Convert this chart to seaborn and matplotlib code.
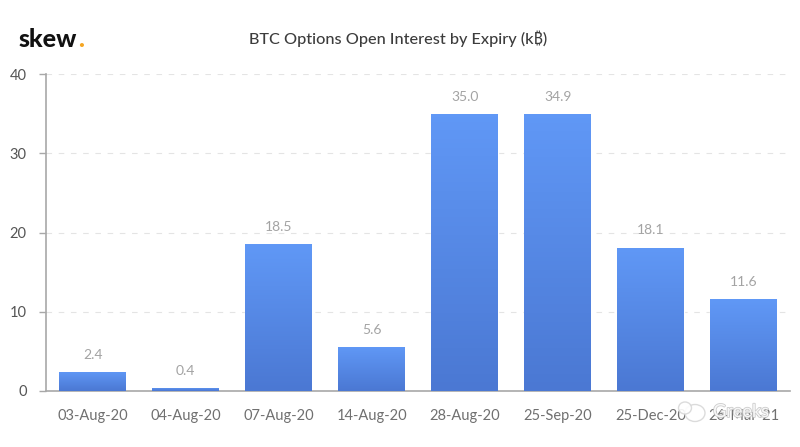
import numpy as np
import pandas as pd
import seaborn as sns
import matplotlib.pyplot as plt
import matplotlib.patheffects as pe
from matplotlib.colors import LinearSegmentedColormap
from matplotlib.patches import Ellipse

# Data
expiries = ["03-Aug-20", "04-Aug-20", "07-Aug-20", "14-Aug-20",
            "28-Aug-20", "25-Sep-20", "25-Dec-20", "26-Mar-21"]
open_interest = [2.4, 0.4, 18.5, 5.6, 35.0, 34.9, 18.1, 11.6]
y_ticks = [0, 10, 20, 30, 40]

df = pd.DataFrame({"expiry": expiries, "oi": open_interest})

sns.set_theme(style="white")
plt.rcParams["font.family"] = ["Lato", "Noto Sans", "Open Sans", "Roboto", "Inter", "DejaVu Sans"]

fig = plt.figure(figsize=(8, 4.47), dpi=100)
ax = fig.add_axes([46.2 / 800, 1 - 391 / 447, 744 / 800, 317 / 447])

sns.barplot(data=df, x="expiry", y="oi", color="#5a8cec", width=0.716,
            saturation=1, ax=ax)

# gradient fill on each bar
bar_cmap = LinearSegmentedColormap.from_list("bars", ["#4b78d3", "#6098f6"])
gradient = np.linspace(1, 0, 64).reshape(-1, 1)
for bar in ax.patches:
    x0, w, h = bar.get_x(), bar.get_width(), bar.get_height()
    im = ax.imshow(gradient, cmap=bar_cmap, vmin=0, vmax=1, aspect="auto",
                   extent=(x0, x0 + w, 0, h), zorder=3)
    im.set_clip_path(bar)

ax.bar_label(ax.containers[0], fmt="%.1f", padding=8, fontsize=10,
             color="#a3a3a3", zorder=4)

ax.set_xlim(-0.5, 7.5)
ax.set_ylim(0, 40)
ax.set_yticks(y_ticks)
ax.set_xlabel("")
ax.set_ylabel("")

ax.grid(axis="y", color="#e4e4e4", linestyle=(0, (5, 6)), linewidth=0.8)
ax.set_axisbelow(True)
ax.tick_params(axis="y", left=True, length=5, width=1, color="#a8a8a8",
               labelsize=10.5, labelcolor="#555555", pad=9)
ax.tick_params(axis="x", bottom=False, labelsize=10.5, labelcolor="#707070", pad=7)

sns.despine(ax=ax)
ax.spines["left"].set_color("#a8a8a8")
ax.spines["bottom"].set_color("#a8a8a8")
ax.spines["left"].set_linewidth(1.2)
ax.spines["bottom"].set_linewidth(1.2)

# title and logo
fig.text(398 / 800, 1 - 39 / 447, "BTC Options Open Interest by Expiry (k₿)",
         ha="center", va="center", fontsize=11.7, color="#3c3c3c", fontweight="medium")
fig.text(19 / 800, 1 - 47 / 447, "skew", ha="left", va="baseline",
         fontsize=18, fontweight="black", color="#111111")
fig.text(78.5 / 800, 1 - 47 / 447, ".", ha="left", va="baseline",
         fontsize=18, fontweight="black", color="#f5a623")

# watermark over the last labels
wm = fig.add_axes([0, 0, 1, 1], facecolor="none")
wm.set_xlim(0, 800)
wm.set_ylim(447, 0)
wm.axis("off")
wm.add_patch(Ellipse((695, 413), 20, 17, facecolor="white",
                     edgecolor="#d8d8d8", linewidth=1, alpha=0.9))
wm.add_patch(Ellipse((685, 408), 13, 12, facecolor="white",
                     edgecolor="#d8d8d8", linewidth=1, alpha=0.9))
wm.text(741, 412, "Greeks", ha="center", va="center", fontsize=13, color="white",
        alpha=0.85, path_effects=[pe.withStroke(linewidth=1.2, foreground="#c4c4c4")])

plt.savefig("out.png", dpi=100)
